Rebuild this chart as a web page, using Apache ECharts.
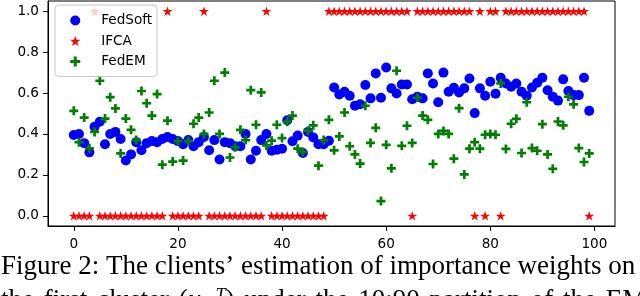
<!DOCTYPE html>
<html>
<head>
<meta charset="utf-8">
<script src="https://cdn.jsdelivr.net/npm/echarts@6/dist/echarts.min.js"></script>
<style>
html,body{margin:0;padding:0;background:#fff;}
#chart{width:640px;height:296px;}
</style>
</head>
<body>
<div id="chart"></div>
<script>
const clients = [0,1,2,3,4,5,6,7,8,9,10,11,12,13,14,15,16,17,18,19,20,21,22,23,24,25,26,27,28,29,30,31,32,33,34,35,36,37,38,39,40,41,42,43,44,45,46,47,48,49,50,51,52,53,54,55,56,57,58,59,60,61,62,63,64,65,66,67,68,69,70,71,72,73,74,75,76,77,78,79,80,81,82,83,84,85,86,87,88,89,90,91,92,93,94,95,96,97,98,99];

const fedSoft = [0.395,0.40,0.355,0.31,0.435,0.46,0.35,0.40,0.41,0.375,
0.27,0.30,0.36,0.32,0.355,0.365,0.36,0.375,0.385,0.375,
0.365,0.35,0.37,0.34,0.36,0.385,0.32,0.37,0.275,0.36,
0.355,0.34,0.34,0.40,0.275,0.318,0.37,0.40,0.318,0.323,
0.328,0.467,0.364,0.392,0.307,0.41,0.383,0.35,0.35,0.367,
0.627,0.593,0.606,0.587,0.538,0.545,0.639,0.574,0.696,0.577,
0.725,0.623,0.598,0.642,0.642,0.57,0.582,0.574,0.696,0.647,
0.555,0.70,0.606,0.626,0.603,0.623,0.671,0.502,0.623,0.587,
0.655,0.597,0.675,0.647,0.631,0.647,0.606,0.587,0.627,0.65,
0.675,0.614,0.582,0.563,0.667,0.61,0.59,0.59,0.675,0.513];

const ifca = [0,0,0,0,1,0,0,0,0,0,
0,0,0,0,0,0,0,0,1,0,
0,0,0,0,0,1,0,0,0,0,
0,0,0,0,0,0,0,1,0,0,
0,0,0,0,0,0,0,0,0,1,
1,1,1,1,1,1,1,1,1,1,
1,1,1,1,1,0,1,1,1,1,
1,1,1,1,1,1,1,0,1,0,
1,1,0,1,1,1,1,1,1,1,
1,1,1,1,1,1,1,1,1,0];

const fedEM = [0.513,0.36,0.48,0.33,0.41,0.66,0.475,0.58,0.525,0.305,
0.475,0.42,0.37,0.61,0.55,0.49,0.595,0.25,0.465,0.265,
0.365,0.27,0.365,0.45,0.48,0.40,0.505,0.66,0.40,0.70,
0.285,0.335,0.42,0.37,0.614,0.445,0.603,0.344,0.367,0.445,
0.38,0.46,0.49,0.328,0.312,0.416,0.442,0.245,0.37,0.469,
0.32,0.388,0.505,0.34,0.30,0.255,0.538,0.356,0.43,0.072,
0.347,0.232,0.709,0.342,0.44,0.356,0.577,0.49,0.469,0.253,
0.40,0.415,0.40,0.279,0.526,0.202,0.328,0.36,0.328,0.396,
0.40,0.396,0.647,0.327,0.45,0.474,0.307,0.555,0.331,0.318,
0.448,0.30,0.23,0.461,0.442,0.582,0.545,0.331,0.263,0.305];

const xTicks = [0,20,40,60,80,100];
const yTicks = [0,0.2,0.4,0.6,0.8,1.0];
const seriesNames = ['FedSoft','IFCA','FedEM'];
const captionLine1 = 'Figure 2: The clients\u2019 estimation of importance weights on';
const captionLine2Before = ['the', 'first', 'cluster', '('];
const captionLine2After = [')', 'under', 'the', '10:90', 'partition', 'of', 'the', 'EM'];

const pair = (ys) => clients.map((c, i) => [c, ys[i]]);

const STAR = 'path://M50,0L61.23,34.55L97.55,34.55L68.17,55.9L79.39,90.45L50,69.1L20.61,90.45L31.83,55.9L2.45,34.55L38.77,34.55Z';
const PLUS = 'path://M35,0H65V35H100V65H65V100H35V65H0V35H35Z';

const chart = echarts.init(document.getElementById('chart'), null, {renderer: 'canvas'});
const tickFont = {fontFamily: 'DejaVu Sans', fontSize: 13.6, color: '#000'};

const words = (arr) => arr.map(w => '{n|' + w + '}').join('{g| }');
const line2 = words(captionLine2Before.slice(0, 3)) + '{g| }{n|(}{i|u}{b|\u00b71}{s|T}' +
  '{n|)}{g| }' + words(captionLine2After.slice(1));

chart.setOption({
  animation: false,
  backgroundColor: '#fff',
  grid: {left: 48, right: 25, top: 1, bottom: 70, show: true, borderColor: '#000', borderWidth: 1, backgroundColor: 'transparent'},
  xAxis: {
    type: 'value', min: -4.95, max: 103.95,
    splitLine: {show: false},
    axisLine: {show: true, onZero: false, lineStyle: {color: '#000', width: 1}},
    axisTick: {show: true, length: 5, lineStyle: {color: '#000'}, customValues: xTicks},
    axisLabel: Object.assign({margin: 11, customValues: xTicks, formatter: v => String(v)}, tickFont)
  },
  yAxis: {
    type: 'value', min: -0.05, max: 1.05,
    splitLine: {show: false},
    axisLine: {show: true, onZero: false, lineStyle: {color: '#000', width: 1}},
    axisTick: {show: true, length: 5, lineStyle: {color: '#000'}, customValues: yTicks},
    axisLabel: Object.assign({margin: 9, customValues: yTicks, formatter: v => v.toFixed(1)}, tickFont)
  },
  legend: {
    left: 55, top: 5, orient: 'vertical', z: 20, zlevel: 1,
    data: seriesNames,
    selectedMode: false,
    itemWidth: 40, itemHeight: 10, itemGap: 6.5,
    padding: [8.5, 5, 8, 15],
    backgroundColor: 'rgba(255,255,255,0.8)',
    borderColor: '#c8c8c8', borderWidth: 1, borderRadius: 4,
    textStyle: {fontFamily: 'DejaVu Sans', fontSize: 13.6, color: '#000', padding: [0,0,0,1]}
  },
  graphic: [
    {type: 'text', left: 1, top: 253, silent: true,
     style: {text: captionLine1, font: '27px "Liberation Serif"', fill: '#000'}},
    {type: 'text', left: 1, top: 287, silent: true,
     style: {
       text: line2,
       rich: {
         n: {font: '27px "Liberation Serif"', fill: '#000'},
         g: {font: '27px "Liberation Serif"', fill: '#000', padding: [0, 3, 0, 0]},
         i: {font: 'italic 27px "Liberation Serif"', fill: '#000'},
         b: {font: '16px "Liberation Serif"', fill: '#000', verticalAlign: 'bottom', padding: [0, 0, 0, 1]},
         s: {font: 'italic 18px "Liberation Serif"', fill: '#000', verticalAlign: 'top'}
       }
     }}
  ],
  series: [
    {name: 'FedSoft', type: 'scatter', data: pair(fedSoft), symbol: 'circle', symbolSize: 10,
     itemStyle: {color: '#0000ff', opacity: 1}, z: 2, silent: true},
    {name: 'IFCA', type: 'scatter', data: pair(ifca), symbol: STAR, symbolKeepAspect: true, symbolSize: 10,
     itemStyle: {color: '#ff0000', opacity: 1}, z: 3, silent: true},
    {name: 'FedEM', type: 'scatter', data: pair(fedEM), symbol: PLUS, symbolSize: 9,
     itemStyle: {color: '#008000', opacity: 1}, z: 4, silent: true}
  ]
});
</script>
</body>
</html>
